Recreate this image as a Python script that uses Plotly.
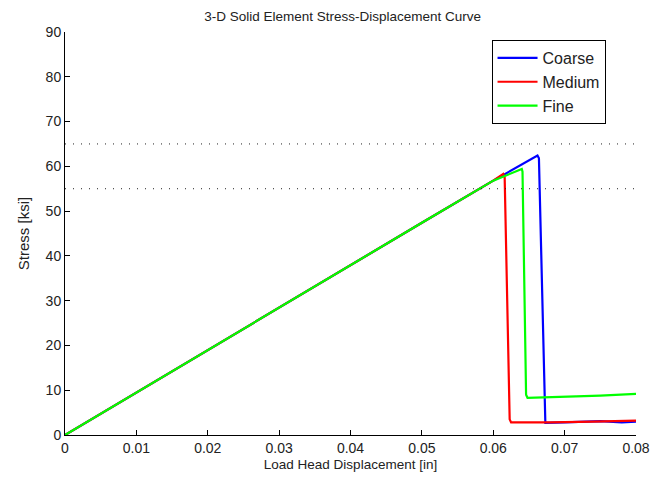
import plotly.graph_objects as go

# Displacement [in] and stress [ksi]
coarse_x = [0, 0.01, 0.02, 0.03, 0.04, 0.05, 0.06, 0.0662, 0.0664, 0.0672, 0.0673, 0.070, 0.075, 0.078, 0.080]
coarse_y = [0, 9.5, 19.0, 28.5, 38.0, 47.4, 56.8, 62.4, 61.8, 3.0, 2.7, 2.8, 3.1, 2.8, 3.0]

medium_x = [0, 0.01, 0.02, 0.03, 0.04, 0.05, 0.06, 0.0614, 0.0616, 0.0623, 0.0625, 0.068, 0.074, 0.080]
medium_y = [0, 9.5, 19.0, 28.5, 38.0, 47.4, 56.8, 58.3, 57.5, 3.5, 2.8, 2.8, 3.0, 3.2]

fine_x = [0, 0.01, 0.02, 0.03, 0.04, 0.05, 0.06, 0.0640, 0.0641, 0.0646, 0.0648, 0.070, 0.075, 0.080]
fine_y = [0, 9.5, 19.0, 28.5, 38.0, 47.4, 56.8, 59.4, 58.8, 9.0, 8.3, 8.5, 8.8, 9.2]

limit_y = [65, 55]
x_range = [0, 0.08]

series = [("Coarse", coarse_x, coarse_y, "#0000ff"),
          ("Medium", medium_x, medium_y, "#ff0000"),
          ("Fine", fine_x, fine_y, "#00ff00")]

fig = go.Figure()
for name, xs, ys, col in series:
    fig.add_trace(go.Scatter(x=xs, y=ys, mode="lines", name=name,
                             line=dict(color=col, width=2.2)))
for ly in limit_y:
    fig.add_trace(go.Scatter(x=x_range, y=[ly, ly], mode="lines", showlegend=False,
                             line=dict(color="#222222", width=1, dash="1px,7px"),
                             hoverinfo="skip"))

font = dict(family="Liberation Sans, Arial, sans-serif", size=13, color="#222222")
fig.update_layout(
    width=656, height=472,
    paper_bgcolor="white", plot_bgcolor="white",
    margin=dict(l=57, r=28, t=24, b=45),
    font=font,
    title=dict(text="3-D Solid Element Stress-Displacement Curve",
               x=0.51, xanchor="center", y=0.993, yanchor="top",
               font=dict(size=13.5)),
    showlegend=True,
    legend=dict(x=0.747, y=0.98, xanchor="left", yanchor="top",
                bgcolor="white", bordercolor="black", borderwidth=1,
                font=dict(size=16), tracegroupgap=0, itemwidth=40),
    xaxis=dict(range=x_range, tickvals=[0, 0.01, 0.02, 0.03, 0.04, 0.05, 0.06, 0.07, 0.08],
               ticktext=["0", "0.01", "0.02", "0.03", "0.04", "0.05", "0.06", "0.07", "0.08"],
               ticks="inside", ticklen=5, tickcolor="black", showline=True, linecolor="black",
               linewidth=1, showgrid=False, zeroline=False, mirror=False,
               tickfont=dict(size=14),
               title=dict(text="Load Head Displacement [in]", font=dict(size=13.5), standoff=4)),
    yaxis=dict(range=[0, 90], tickvals=list(range(0, 91, 10)),
               ticks="inside", ticklen=5, tickcolor="black", showline=True, linecolor="black",
               linewidth=1, showgrid=False, zeroline=False, mirror=False,
               tickfont=dict(size=14),
               title=dict(text="Stress [ksi]", font=dict(size=15), standoff=12)),
)

fig.write_html("out.html")
